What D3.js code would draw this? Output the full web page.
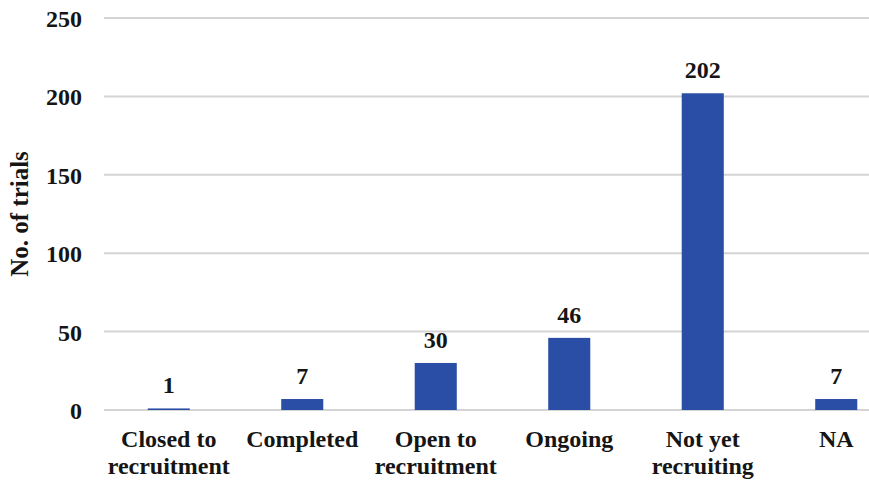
<!DOCTYPE html>
<html>
<head>
<meta charset="utf-8">
<script src="https://cdn.jsdelivr.net/npm/d3@7"></script>
<style>
  html, body { margin: 0; padding: 0; background: #fff; }
  svg { display: block; }
  text { font-family: "Liberation Serif", "Times New Roman", Times, "DejaVu Serif", serif; font-weight: bold; fill: #151515; }
</style>
</head>
<body>
<svg id="chart" width="869" height="480"></svg>
<script>
// Trial status counts
const categories = [["Closed to", "recruitment"], ["Completed"], ["Open to", "recruitment"], ["Ongoing"], ["Not yet", "recruiting"], ["NA"]];
const values = [1, 7, 30, 46, 202, 7];
const yTicks = [0, 50, 100, 150, 200, 250];
const yTitle = "No. of trials";

const svg = d3.select("#chart");
const keys = categories.map(c => c.join(" "));
const FS = 24;

const x = d3.scaleBand().domain(keys).range([102, 903]).paddingInner(0.685).paddingOuter(0.3425);
const y = d3.scaleLinear().domain([0, 250]).range([410, 18]);

// Horizontal gridlines
svg.append("g").selectAll("line").data(yTicks).join("line")
  .attr("x1", 104).attr("x2", 869)
  .attr("y1", d => y(d)).attr("y2", d => y(d))
  .attr("stroke", "#d4d4d4").attr("stroke-width", 2);

// Y axis tick labels
const yAxis = d3.axisLeft(y).tickValues(yTicks).tickSize(0).tickPadding(0);
const gy = svg.append("g").attr("transform", "translate(82,0)").call(yAxis);
gy.attr("font-family", null).attr("font-size", null);
gy.select(".domain").remove();
gy.selectAll("text").attr("font-size", FS).attr("dy", "0.35em").attr("fill", "#151515");

// Bars
svg.append("g").selectAll("rect").data(values).join("rect")
  .attr("x", (d, i) => x(keys[i]))
  .attr("width", x.bandwidth())
  .attr("y", d => y(d))
  .attr("height", d => y(0) - y(d))
  .attr("fill", "#2a4ea6");

// Value labels
svg.append("g").selectAll("text").data(values).join("text")
  .attr("x", (d, i) => x(keys[i]) + x.bandwidth() / 2)
  .attr("y", d => y(d) - 15)
  .attr("text-anchor", "middle")
  .attr("font-size", FS)
  .text(d => d);

// Category labels (wrapped onto two lines)
const cat = svg.append("g").selectAll("text").data(categories).join("text")
  .attr("text-anchor", "middle")
  .attr("font-size", FS)
  .attr("transform", (d, i) => `translate(${x(keys[i]) + x.bandwidth() / 2},447)`);
cat.selectAll("tspan").data(d => d).join("tspan")
  .attr("x", 0).attr("dy", (d, i) => i === 0 ? 0 : 27)
  .text(d => d);

// Y axis title
svg.append("text")
  .attr("transform", "translate(28,214) rotate(-90)")
  .attr("text-anchor", "middle")
  .attr("font-size", 25)
  .text(yTitle);
</script>
</body>
</html>
